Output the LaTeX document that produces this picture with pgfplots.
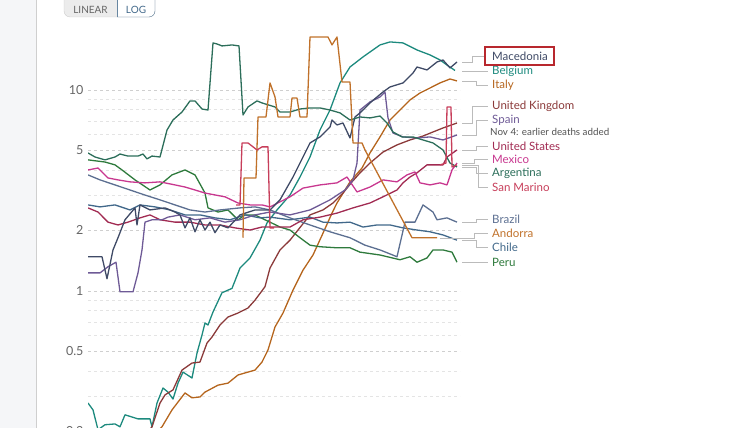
\documentclass[border=0pt]{standalone}
\usepackage{fontspec}
\setmainfont{Lato}
\usepackage{pgfplots}
\pgfplotsset{compat=1.18}

\definecolor{cMac}{HTML}{3F4A66}
\definecolor{cBel}{HTML}{1D8A7E}
\definecolor{cIta}{HTML}{B5651D}
\definecolor{cUK}{HTML}{8B3A3A}
\definecolor{cSpa}{HTML}{6E5A96}
\definecolor{cUS}{HTML}{A12B52}
\definecolor{cMex}{HTML}{C8378F}
\definecolor{cArg}{HTML}{2C6E5A}
\definecolor{cSM}{HTML}{C73E5A}
\definecolor{cBra}{HTML}{5C6F91}
\definecolor{cAnd}{HTML}{C0712A}
\definecolor{cChi}{HTML}{41688A}
\definecolor{cPer}{HTML}{2E7A3C}
\definecolor{tickgray}{HTML}{666666}
\definecolor{gridmaj}{HTML}{CFCFCF}
\definecolor{gridmin}{HTML}{E4E4E4}
\definecolor{conn}{HTML}{BBBBBB}
\definecolor{panel}{HTML}{F5F6F8}

\begin{document}
\begin{tikzpicture}[x=1pt,y=1pt]
\path[use as bounding box] (0,0) rectangle (749,428);
% left page margin
\fill[panel] (0,0) rectangle (36,428);
\draw[color=gridmaj,line width=1pt] (36.5,0) -- (36.5,428);
% linear / log toggle
\fill[gray!15,rounded corners=6pt] (64,411) rectangle (155,434);
\fill[white,rounded corners=6pt] (117,411) rectangle (155,434);
\fill[white] (117,411) rectangle (125,434);
\draw[gray!40,rounded corners=6pt] (64,411) rectangle (155,434);
\draw[color=cChi!80,rounded corners=6pt] (117,411) -| (155,434);
\draw[color=cChi!80] (117,411) -- (117,434);
\node[font=\fontsize{10}{11}\selectfont,text=tickgray] at (90.5,418.5) {LINEAR};
\node[font=\fontsize{10}{11}\selectfont,text=cChi] at (136,418.5) {LOG};

\begin{axis}[
  at={(88pt,-12pt)}, anchor=south west,
  scale only axis, width=372pt, height=440pt,
  xmin=0, xmax=372,
  ymode=log, ymin=0.1814, ymax=28.03,
  axis line style={draw=none},
  tick style={draw=none},
  xtick=\empty,
  ytick={0.2,0.5,1,2,5,10},
  yticklabels={0.2,0.5,1,2,5,10},
  minor ytick={0.3,0.4,0.6,0.7,0.8,0.9,3,4,6,7,8,9},
  ymajorgrids, yminorgrids,
  major grid style={color=gridmaj, dash pattern=on 3pt off 3pt, line width=0.8pt},
  minor grid style={color=gridmin, dash pattern=on 3pt off 3pt, line width=0.8pt},
  yticklabel style={font=\fontsize{12.5}{14}\selectfont, text=tickgray, xshift=-1pt},
  /pgf/number format/assume math mode=true,
  every axis plot/.append style={line width=1.3pt, line join=round, mark=none},
]
% Belgium
\addplot[cBel] coordinates {(0,0.277) (5,0.256) (10,0.204) (17,0.216) (27,0.218) (32,0.211) (37,0.242) (44,0.236) (50,0.231) (62,0.231) (64,0.211) (69,0.277) (75,0.329) (80,0.314) (85,0.290) (90,0.348) (95,0.395) (104,0.369) (109,0.491) (114,0.604) (117,0.693) (120,0.677) (125,0.786) (134,0.98) (144,1.03) (152,1.30) (162,1.46) (172,1.79) (179,2.18) (189,2.53) (202,3.00) (212,3.69) (222,4.64) (232,6.32) (242,7.95) (252,10.84) (262,13.01) (275,14.60) (292,16.75) (302,17.34) (315,17.14) (329,15.81) (342,14.94) (352,14.10) (359,13.31) (367,12.50)};
% Italy
\addplot[cIta] coordinates {(69,0.2) (74,0.211) (84,0.256) (97,0.311) (104,0.294) (112,0.297) (117,0.314) (130,0.340) (140,0.348) (150,0.382) (157,0.391) (167,0.404) (174,0.443) (180,0.509) (187,0.662) (195,0.777) (205,1.01) (215,1.27) (225,1.51) (235,1.94) (244,2.44) (249,2.74) (262,3.49) (274,4.09) (282,4.86) (292,5.84) (302,7.09) (312,7.95) (322,8.92) (332,9.66) (342,10.23) (352,10.84) (362,11.34) (369,11.09)};
% United Kingdom
\addplot[cUK] coordinates {(60,0.2) (64,0.211) (72,0.277) (77,0.304) (85,0.322) (94,0.404) (104,0.438) (112,0.443) (119,0.551) (124,0.590) (132,0.677) (140,0.742) (150,0.777) (160,0.823) (167,0.90) (177,1.05) (182,1.30) (192,1.60) (202,1.79) (210,2.01) (222,2.39) (235,2.53) (245,2.74) (255,3.07) (264,3.49) (272,3.87) (282,4.33) (295,4.91) (309,5.33) (322,5.64) (335,5.90) (345,6.18) (355,6.47) (369,6.85)};
% Peru
\addplot[cPer] coordinates {(0,4.49) (17,4.38) (27,4.24) (34,4.00) (47,3.57) (62,3.18) (72,3.37) (84,3.78) (97,4.00) (107,3.78) (117,3.07) (120,2.59) (130,2.47) (140,2.53) (150,2.26) (157,2.39) (167,2.39) (177,2.26) (182,2.20) (192,2.08) (202,2.01) (212,1.84) (222,1.69) (232,1.66) (249,1.64) (262,1.64) (272,1.56) (292,1.51) (312,1.43) (322,1.48) (329,1.39) (339,1.46) (345,1.60) (355,1.60) (364,1.56) (369,1.39)};
% Chile
\addplot[cChi] coordinates {(0,2.68) (12,2.62) (27,2.68) (42,2.53) (52,2.68) (67,2.62) (82,2.53) (97,2.39) (112,2.39) (127,2.31) (142,2.26) (157,2.39) (172,2.31) (182,2.33) (202,2.26) (222,2.33) (235,2.20) (249,2.18) (262,2.20) (275,2.08) (289,2.13) (302,2.13) (315,2.06) (329,2.01) (342,1.97) (355,1.90) (369,1.79)};
% Brazil
\addplot[cBra] coordinates {(0,3.78) (12,3.57) (27,3.37) (42,3.18) (57,3.00) (72,2.84) (87,2.68) (102,2.53) (117,2.47) (132,2.53) (152,2.59) (167,2.62) (182,2.53) (202,2.31) (222,2.13) (242,1.97) (262,1.84) (277,1.69) (292,1.60) (309,1.48) (317,2.20) (327,2.20) (335,2.68) (345,2.47) (349,2.26) (359,2.31) (369,2.20)};
% United States
\addplot[cUS] coordinates {(0,2.59) (10,2.47) (20,2.20) (30,2.13) (40,2.20) (52,2.31) (62,2.39) (72,2.26) (87,2.20) (102,2.20) (117,2.13) (132,2.13) (147,2.06) (162,2.01) (174,2.08) (202,2.08) (215,2.26) (232,2.33) (249,2.44) (265,2.59) (282,2.74) (295,2.94) (309,3.18) (315,3.45) (322,3.69) (329,3.87) (339,4.24) (355,4.24) (359,4.64) (369,5.03)};
% Mexico
\addplot[cMex] coordinates {(0,4.00) (10,4.09) (20,3.65) (30,3.57) (42,3.49) (57,3.45) (72,3.49) (87,3.37) (97,3.29) (107,3.18) (117,3.07) (137,2.94) (150,2.74) (162,2.68) (174,2.68) (182,2.62) (202,2.94) (215,3.25) (232,3.37) (249,3.45) (259,3.69) (269,3.11) (282,3.29) (295,3.57) (309,3.49) (319,3.78) (327,3.91) (332,3.45) (342,3.37) (352,3.45) (359,3.37) (364,4.00) (369,4.33)};
% Spain
\addplot[cSpa] coordinates {(0,1.23) (12,1.23) (20,1.32) (28,1.39) (32,0.99) (45,0.99) (50,1.23) (54,1.60) (57,2.20) (64,2.26) (74,2.26) (80,2.33) (92,2.39) (107,2.26) (122,2.31) (137,2.20) (152,2.26) (167,2.39) (182,2.47) (202,2.39) (222,2.53) (242,2.84) (257,3.18) (265,3.57) (269,4.33) (272,7.95) (282,8.72) (292,9.23) (297,9.77) (300,7.26) (305,6.11) (315,5.84) (329,5.77) (342,5.84) (355,5.64) (369,5.97)};
% Macedonia
\addplot[cMac] coordinates {(0,1.48) (14,1.48) (19,1.15) (25,1.60) (30,1.84) (37,2.26) (47,2.59) (49,2.13) (52,2.68) (62,2.53) (77,2.59) (87,2.47) (92,2.39) (97,2.06) (102,2.31) (107,1.97) (112,2.26) (117,2.01) (122,2.20) (127,1.95) (132,2.13) (140,2.06) (152,2.39) (167,2.53) (182,2.53) (192,2.84) (205,3.69) (222,5.45) (232,5.84) (242,6.54) (244,7.09) (249,6.70) (255,6.85) (262,5.77) (267,7.34) (272,7.69) (282,8.62) (289,9.23) (295,9.77) (302,10.35) (315,10.84) (325,12.15) (329,13.01) (339,12.58) (349,13.78) (355,14.10) (362,12.87) (369,13.78)};
% Argentina
\addplot[cArg] coordinates {(0,4.86) (7,4.64) (17,4.49) (27,4.64) (32,4.80) (40,4.69) (50,4.69) (55,4.80) (59,4.54) (64,4.69) (72,4.64) (79,6.32) (85,7.09) (94,7.77) (102,8.82) (107,8.82) (114,8.04) (120,7.95) (125,17.14) (129,16.94) (134,16.56) (144,16.75) (151,16.56) (155,7.51) (160,8.23) (169,8.82) (174,8.62) (187,8.23) (192,7.77) (202,7.77) (212,8.04) (222,8.14) (232,8.14) (242,7.95) (252,7.69) (262,7.09) (272,7.34) (282,7.26) (292,7.42) (299,6.85) (305,6.18) (314,5.84) (325,5.84) (335,5.64) (345,5.45) (355,5.03) (362,4.33) (369,4.14)};
% Andorra
\addplot[cAnd] coordinates {(155,1.84) (156,3.65) (168,3.65) (170,7.34) (178,7.34) (182,10.84) (187,9.23) (190,7.34) (202,7.34) (204,9.12) (209,9.12) (212,7.34) (219,7.34) (222,18.35) (240,18.35) (244,16.75) (249,18.35) (254,10.96) (262,10.96) (265,5.45) (274,5.45) (277,5.03) (324,1.84) (349,1.84)};
% San Marino
\addplot[cSM] coordinates {(148,2.68) (152,2.68) (154,5.45) (160,5.45) (169,5.03) (174,5.21) (180,5.21) (182,2.06) (186,2.06)};
\addplot[cSM] coordinates {(352,4.24) (358,4.33) (359,8.23) (363,8.23) (364,4.14) (369,4.24)};
\end{axis}

% connectors from line ends to labels
\begin{scope}[conn, line width=0.8pt]
\draw (462,366) -| (472,372) -- (485,372);
\draw (462,357) -- (488,357);
\draw (462,347) -| (476,343) -- (488,343);
\draw (462,305) -| (472,322) -- (488,322);
\draw (462,293) -| (476,308) -- (488,308);
\draw (462,278) -| (476,282) -- (488,282);
\draw (462,265) -| (474,269) -- (488,269);
\draw (462,261) -| (476,255) -- (488,255);
\draw (462,263) -| (478,241) -- (488,241);
\draw (462,206) -| (476,209) -- (488,209);
\draw (440,190) -| (474,195) -- (488,195);
\draw (462,188) -| (476,181) -- (488,181);
\draw (462,166) -- (488,166);
\end{scope}

\begin{scope}[every node/.style={anchor=west, inner sep=0pt, font=\fontsize{11.5}{13}\selectfont}]
\node[text=cMac] at (492,372) {Macedonia};
\node[text=cBel] at (492,357) {Belgium};
\node[text=cIta] at (492,343) {Italy};
\node[text=cUK] at (492,322) {United Kingdom};
\node[text=cSpa] at (492,308) {Spain};
\node[text=tickgray!80!black, font=\fontsize{9.8}{11}\selectfont] at (490,296) {Nov 4: earlier deaths added};
\node[text=cUS] at (492,282) {United States};
\node[text=cMex] at (492,269) {Mexico};
\node[text=cArg] at (492,255) {Argentina};
\node[text=cSM] at (492,241) {San Marino};
\node[text=cBra] at (492,209) {Brazil};
\node[text=cAnd] at (492,195) {Andorra};
\node[text=cChi] at (492,181) {Chile};
\node[text=cPer] at (492,166) {Peru};
\end{scope}
\draw[color={rgb,255:red,184;green,40;blue,46}, line width=2pt] (485,363) rectangle (554,381);
\end{tikzpicture}
\end{document}
